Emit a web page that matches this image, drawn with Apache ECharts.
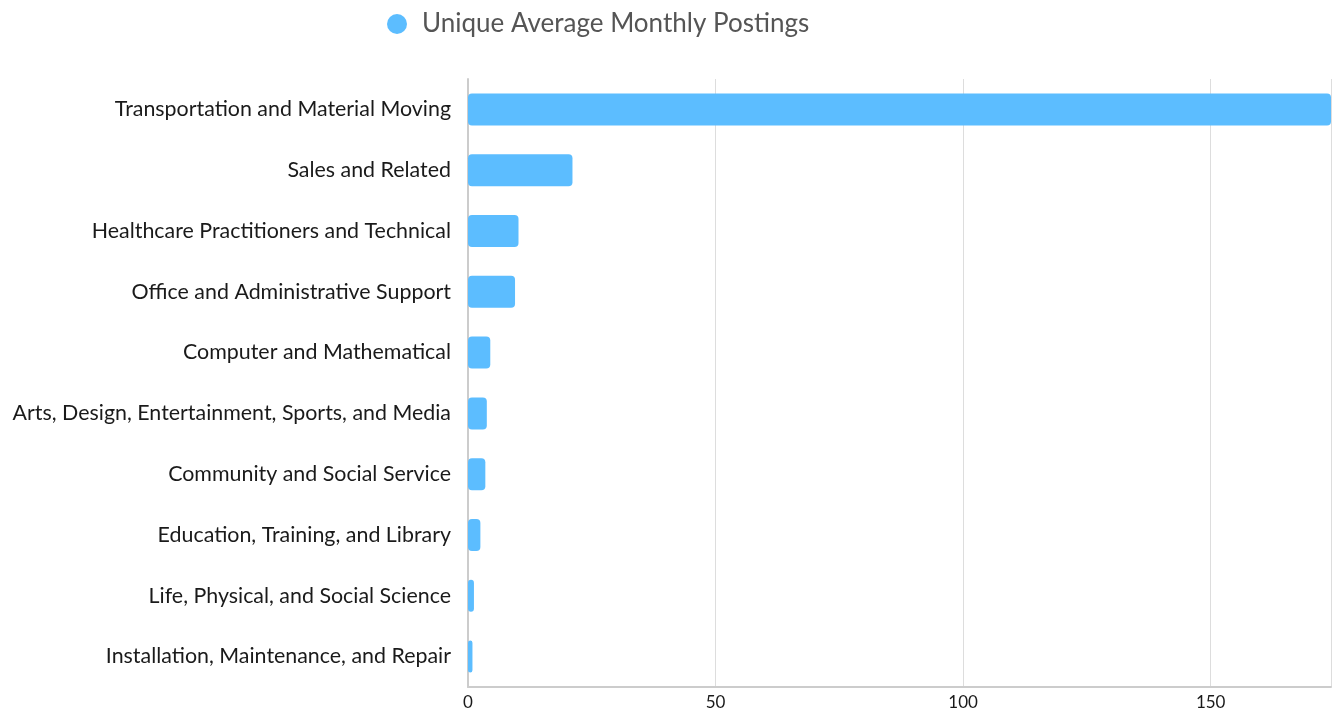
<!DOCTYPE html>
<html>
<head>
<meta charset="utf-8">
<script src="https://cdn.jsdelivr.net/npm/echarts@6/dist/echarts.min.js"></script>
<style>
  html, body { margin: 0; padding: 0; background: #fff; }
  #chart { width: 1340px; height: 713px; }
</style>
</head>
<body>
<div id="chart"></div>
<script>
// Occupation groups, listed top to bottom
const categories = [
  'Transportation and Material Moving',
  'Sales and Related',
  'Healthcare Practitioners and Technical',
  'Office and Administrative Support',
  'Computer and Mathematical',
  'Arts, Design, Entertainment, Sports, and Media',
  'Community and Social Service',
  'Education, Training, and Library',
  'Life, Physical, and Social Science',
  'Installation, Maintenance, and Repair'
];
const seriesName = 'Unique Average Monthly Postings';
const postings = [174.3, 21.1, 10.2, 9.5, 4.5, 3.8, 3.5, 2.5, 1.2, 0.9];
const xTicks = [0, 50, 100, 150];

const chart = echarts.init(document.getElementById('chart'));
const font = 'Lato, "Noto Sans", sans-serif';

chart.setOption({
  animation: false,
  textStyle: { fontFamily: font },
  legend: {
    data: [seriesName],
    left: 382,
    top: 6,
    icon: 'circle',
    itemWidth: 20,
    itemHeight: 20,
    textStyle: { fontFamily: font, fontSize: 26, color: '#555', padding: [0, 0, 0, 10] }
  },
  grid: { left: 468, right: 9, top: 79, bottom: 26, containLabel: false },
  xAxis: {
    type: 'value',
    min: 0,
    max: 'dataMax',
    interval: 50,
    axisLine: { show: true, lineStyle: { color: '#ccc', width: 2 } },
    axisTick: { show: false },
    splitLine: { show: true, lineStyle: { color: '#ddd', width: 1 } },
    axisLabel: {
      fontFamily: font, fontSize: 17, color: '#1a1a1a', margin: 7,
      showMaxLabel: false,
      formatter: v => (xTicks.indexOf(v) >= 0 ? String(v) : '')
    }
  },
  yAxis: {
    type: 'category',
    data: categories,
    inverse: true,
    axisLine: { show: true, lineStyle: { color: '#ccc', width: 2 } },
    axisTick: { show: false },
    splitLine: { show: false },
    axisLabel: { fontFamily: font, fontSize: 21.4, color: '#1a1a1a', margin: 17 }
  },
  series: [{
    name: seriesName,
    type: 'bar',
    data: postings,
    barWidth: 32,
    itemStyle: { color: '#5CBDFF', borderRadius: 4 }
  }]
});
</script>
</body>
</html>
